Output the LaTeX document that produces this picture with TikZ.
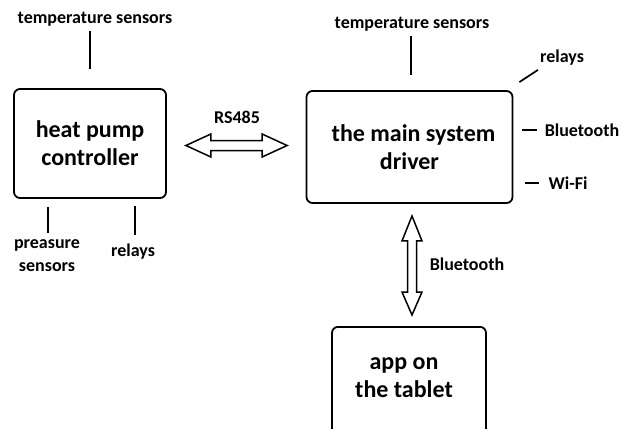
\documentclass[tikz,border=0pt]{standalone}
\usepackage{fontspec}
\setmainfont{Carlito}
\usetikzlibrary{calc}

\tikzset{
  box/.style={draw, line width=1.8pt, rounded corners=6pt, align=center,
    font=\bfseries\fontsize{24}{28}\selectfont},
  lbl/.style={inner sep=2pt, align=center, font=\bfseries\fontsize{18}{23}\selectfont},
  wire/.style={line width=1.7pt},
  arr/.style={line width=1.5pt, line join=miter},
}

\begin{document}
\begin{tikzpicture}[x=1pt,y=-1pt]

    \useasboundingbox (0,0) rectangle (633,429);

    % Boxes
    \node[box, minimum width=152, minimum height=109] (hp) at (90,143.5) {heat pump\\controller};
    \node[box, minimum width=206, minimum height=112] (ms) at (409.5,147) {\hspace*{8pt}the main system\\driver};
    \node[box, minimum width=154, minimum height=130, anchor=north] (app) at (409,326) {};
    \node[box, draw=none] (apptxt) at ($(app.north)+(-5,52)$) {app on\\the tablet};

    % Labels around the heat pump controller
    \node[lbl] (ts1) at (95,19) {temperature sensors};
    \node[lbl] (ps) at (47,256) {preasure\\sensors};
    \node[lbl] (rl1) at (133,252) {relays};

    % Labels around the main driver
    \node[lbl] (ts2) at (412,24) {temperature sensors};
    \node[lbl] (rl2) at (562,58) {relays};
    \node[lbl] (bt) at (582,130) {Bluetooth};
    \node[lbl] (wf) at (568,183) {Wi-Fi};

    % Link labels
    \node[lbl] (rs) at (237,117) {RS485};
    \node[lbl] (bt2) at (467,264) {Bluetooth};

    % Short wires
    \draw[wire, shorten <=3pt, shorten >=19pt] (ts1.south -| hp.north) -- (hp.north);
    \draw[wire, shorten <=8pt, shorten >=5pt] ([xshift=-42pt]hp.south) -- ([xshift=-42pt]hp.south |- ps.north);
    \draw[wire, shorten <=7pt, shorten >=7pt] ([xshift=45pt]hp.south) -- ([xshift=45pt]hp.south |- rl1.north);
    \draw[wire, shorten <=3pt, shorten >=15pt] ([xshift=1.5pt]ms.north |- ts2.south) -- ([xshift=1.5pt]ms.north);
    \draw[wire] ($(ms.north east)+(6,-8)$) -- ($(rl2.south west)+(0,2)$);
    \draw[wire, shorten <=8.5pt, shorten >=6pt] (ms.east |- bt) -- (bt.west);
    \draw[wire, shorten <=11.5pt, shorten >=7pt] (ms.east |- wf) -- (wf.west);

    % RS485 double arrow
    \coordinate (rsL) at ($(hp.east)+(19,2)$);
    \coordinate (rsR) at ($(ms.west |- rsL)+(-18.5,0)$);
    \draw[arr] (rsL) -- ++(25,-11.5) -- ++(0,6.5) -- ($(rsR)+(-25,-5)$) -- ++(0,-6.5) -- (rsR)
      -- ++(-25,11.5) -- ++(0,-6.5) -- ($(rsL)+(25,5)$) -- ++(0,6.5) -- cycle;

    % Bluetooth double arrow
    \coordinate (btT) at ($(ms.south)+(2.5,12)$);
    \coordinate (btB) at ($(app.north -| btT)+(0,-11)$);
    \draw[arr] (btT) -- ++(10,25) -- ++(-5.5,0) -- ($(btB)+(4.5,-23)$) -- ++(5.5,0) -- (btB)
      -- ++(-10,-23) -- ++(5.5,0) -- ($(btT)+(-4.5,25)$) -- ++(-5.5,0) -- cycle;

\end{tikzpicture}
\end{document}
